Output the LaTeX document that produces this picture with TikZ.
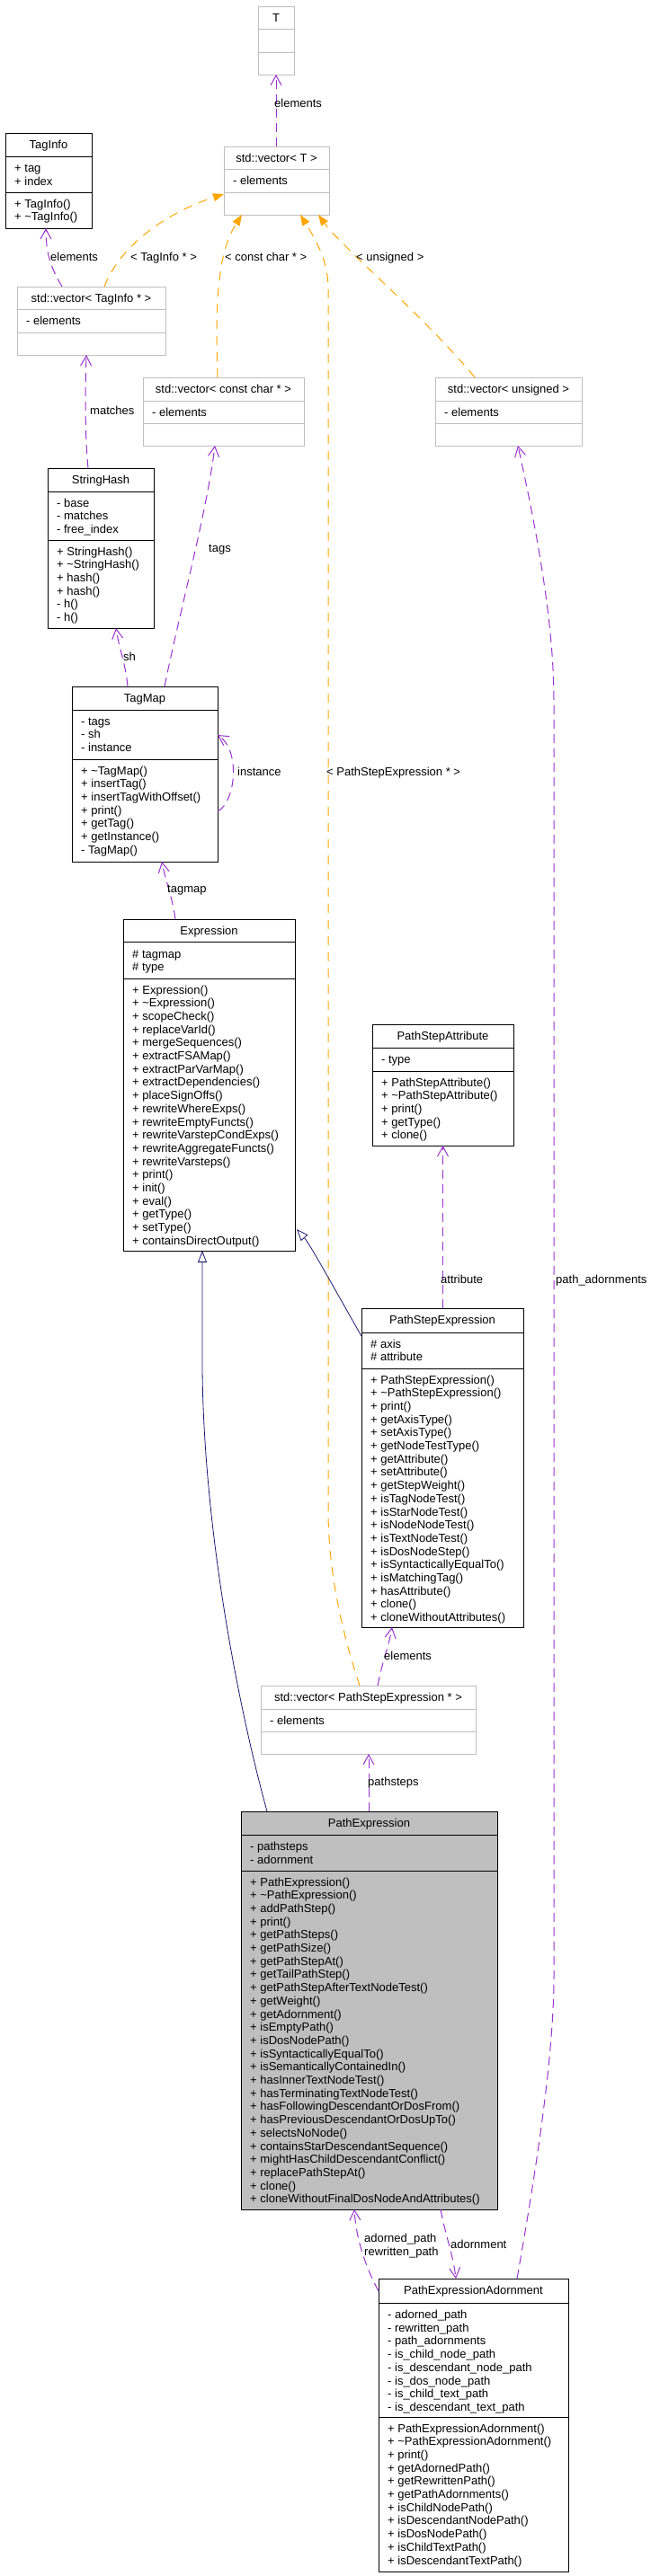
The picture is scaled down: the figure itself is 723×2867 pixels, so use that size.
\documentclass[tikz,border=0pt]{standalone}
\usepackage{fontspec}
\setmainfont{Liberation Sans}
\usetikzlibrary{arrows.meta,calc}
\definecolor{boxgray}{HTML}{BFBFBF}
\definecolor{curfill}{HTML}{BFBFBF}
\definecolor{usepurple}{HTML}{9A32CD}
\definecolor{tmplorange}{HTML}{FFA500}
\definecolor{inhblue}{HTML}{191970}
\newcommand\cbox[7]{%
  \node[#6, anchor=north west, minimum width={(#4)-(#2)}, minimum height={(#5)-(#3)}] (#1) at (#2,#3) {};
  \node[anchor=base, inner sep=0pt] (#1-t) at ({((#2)+(#4))/2},{(#3)+17.5}) {#7};
}
\newcommand\cdiv[4]{\draw[#4, line width=1pt] (#1,#3) -- (#2,#3);}
\newcommand\clines[4]{%
  \foreach \txt [count=\ci] in {#4} {
    \node[anchor=base west, inner sep=0pt] (#1-\ci) at (#2, {(#3)+(\ci-1)*14.7}) {\txt};
  }
}
\begin{document}
\begin{tikzpicture}[x=1pt,y=-1pt,font=\fontsize{13}{14.7}\selectfont,
  realbox/.style={draw=black, line width=1pt, fill=white, inner sep=0pt, outer sep=0pt},
  tmplbox/.style={draw=boxgray, line width=1pt, fill=white, inner sep=0pt, outer sep=0pt},
  curbox/.style={draw=black, line width=1pt, fill=curfill, inner sep=0pt, outer sep=0pt},
  usearrow/.style={draw=usepurple, line width=1pt, dash pattern=on 10pt off 6pt, -{Straight Barb[length=11pt,width=12pt]}},
  tmplarrow/.style={draw=tmplorange, line width=1pt, dash pattern=on 10pt off 8pt, -{Triangle[length=12pt,width=9pt,fill=tmplorange]}},
  inharrow/.style={draw=inhblue, line width=0.8pt, -{Triangle[length=13pt,width=10pt,fill=white]}},
  lbl/.style={anchor=base west, inner sep=0pt}]
\useasboundingbox (0,0) rectangle (723,2867);

% T
\cbox{T}{287}{7}{327}{83}{tmplbox}{T}
\cdiv{287}{327}{32}{boxgray}
\cdiv{287}{327}{58}{boxgray}

% std::vector< T >
\cbox{vecT}{249}{163}{366}{239}{tmplbox}{std::vector< T >}
\cdiv{249}{366}{188}{boxgray}
\cdiv{249}{366}{214}{boxgray}
\clines{vecT-a}{259}{205.5}{- elements}

% TagInfo
\cbox{TagInfo}{6}{148}{102}{254}{realbox}{TagInfo}
\cdiv{6}{102}{174}{black}
\cdiv{6}{102}{214}{black}
\clines{TagInfo-a}{16}{191.5}{+ tag,+ index}
\clines{TagInfo-m}{16}{231}{+ TagInfo(),+ \textasciitilde TagInfo()}

% std::vector< TagInfo * >
\cbox{vecTI}{19}{319}{184}{395}{tmplbox}{std::vector< TagInfo * >}
\cdiv{19}{184}{344}{boxgray}
\cdiv{19}{184}{370}{boxgray}
\clines{vecTI-a}{29}{361.5}{- elements}

% std::vector< const char * >
\cbox{vecCC}{159}{420}{338}{496}{tmplbox}{std::vector< const char * >}
\cdiv{159}{338}{446}{boxgray}
\cdiv{159}{338}{471}{boxgray}
\clines{vecCC-a}{169}{463}{- elements}

% std::vector< unsigned >
\cbox{vecU}{484}{420}{647}{496}{tmplbox}{std::vector< unsigned >}
\cdiv{484}{647}{446}{boxgray}
\cdiv{484}{647}{471}{boxgray}
\clines{vecU-a}{494}{463}{- elements}

% StringHash
\cbox{SH}{53}{521}{171}{699}{realbox}{StringHash}
\cdiv{53}{171}{547}{black}
\cdiv{53}{171}{601}{black}
\clines{SH-a}{63}{564}{- base,- matches,- free\_index}
\clines{SH-m}{63}{618}{+ StringHash(),+ \textasciitilde StringHash(),+ hash(),+ hash(),- h(),- h()}

% TagMap
\cbox{TM}{80}{764}{242}{959}{realbox}{TagMap}
\cdiv{80}{242}{790}{black}
\cdiv{80}{242}{845}{black}
\clines{TM-a}{90}{807}{- tags,- sh,- instance}
\clines{TM-m}{90}{862}{+ \textasciitilde TagMap(),+ insertTag(),+ insertTagWithOffset(),+ print(),+ getTag(),+ getInstance(),- TagMap()}

% Expression
\cbox{Expr}{137}{1023}{328}{1392}{realbox}{Expression}
\cdiv{137}{328}{1048}{black}
\cdiv{137}{328}{1089}{black}
\clines{Expr-a}{147}{1066}{\# tagmap,\# type}
\clines{Expr-m}{147}{1106}{+ Expression(),+ \textasciitilde Expression(),+ scopeCheck(),+ replaceVarId(),+ mergeSequences(),+ extractFSAMap(),+ extractParVarMap(),+ extractDependencies(),+ placeSignOffs(),+ rewriteWhereExps(),+ rewriteEmptyFuncts(),+ rewriteVarstepCondExps(),+ rewriteAggregateFuncts(),+ rewriteVarsteps(),+ print(),+ init(),+ eval(),+ getType(),+ setType(),+ containsDirectOutput()}

% PathStepAttribute
\cbox{PSA}{414}{1140}{571}{1275}{realbox}{PathStepAttribute}
\cdiv{414}{571}{1166}{black}
\cdiv{414}{571}{1192}{black}
\clines{PSA-a}{424}{1183}{- type}
\clines{PSA-m}{424}{1209}{+ PathStepAttribute(),+ \textasciitilde PathStepAttribute(),+ print(),+ getType(),+ clone()}

% PathStepExpression
\cbox{PSE}{402}{1456}{582}{1811}{realbox}{PathStepExpression}
\cdiv{402}{582}{1483}{black}
\cdiv{402}{582}{1523}{black}
\clines{PSE-a}{412}{1500}{\# axis,\# attribute}
\clines{PSE-m}{412}{1540}{+ PathStepExpression(),+ \textasciitilde PathStepExpression(),+ print(),+ getAxisType(),+ setAxisType(),+ getNodeTestType(),+ getAttribute(),+ setAttribute(),+ getStepWeight(),+ isTagNodeTest(),+ isStarNodeTest(),+ isNodeNodeTest(),+ isTextNodeTest(),+ isDosNodeStep(),+ isSyntacticallyEqualTo(),+ isMatchingTag(),+ hasAttribute(),+ clone(),+ cloneWithoutAttributes()}

% std::vector< PathStepExpression * >
\cbox{vecPSE}{290}{1876}{529}{1952}{tmplbox}{std::vector< PathStepExpression * >}
\cdiv{290}{529}{1902}{boxgray}
\cdiv{290}{529}{1927}{boxgray}
\clines{vecPSE-a}{300}{1919}{- elements}

% PathExpression
\cbox{PE}{268}{2016}{553}{2459}{curbox}{PathExpression}
\cdiv{268}{553}{2042}{black}
\cdiv{268}{553}{2082}{black}
\clines{PE-a}{278}{2059.5}{- pathsteps,- adornment}
\clines{PE-m}{278}{2099}{+ PathExpression(),+ \textasciitilde PathExpression(),+ addPathStep(),+ print(),+ getPathSteps(),+ getPathSize(),+ getPathStepAt(),+ getTailPathStep(),+ getPathStepAfterTextNodeTest(),+ getWeight(),+ getAdornment(),+ isEmptyPath(),+ isDosNodePath(),+ isSyntacticallyEqualTo(),+ isSemanticallyContainedIn(),+ hasInnerTextNodeTest(),+ hasTerminatingTextNodeTest(),+ hasFollowingDescendantOrDosFrom(),+ hasPreviousDescendantOrDosUpTo(),+ selectsNoNode(),+ containsStarDescendantSequence(),+ mightHasChildDescendantConflict(),+ replacePathStepAt(),+ clone(),+ cloneWithoutFinalDosNodeAndAttributes()}

% PathExpressionAdornment
\cbox{PEA}{421}{2536}{632}{2862}{realbox}{PathExpressionAdornment}
\cdiv{421}{632}{2563}{black}
\cdiv{421}{632}{2690}{black}
\clines{PEA-a}{431}{2580.5}{- adorned\_path,- rewritten\_path,- path\_adornments,- is\_child\_node\_path,- is\_descendant\_node\_path,- is\_dos\_node\_path,- is\_child\_text\_path,- is\_descendant\_text\_path}
\clines{PEA-m}{431}{2707}{+ PathExpressionAdornment(),+ \textasciitilde PathExpressionAdornment(),+ print(),+ getAdornedPath(),+ getRewrittenPath(),+ getPathAdornments(),+ isChildNodePath(),+ isDescendantNodePath(),+ isDosNodePath(),+ isChildTextPath(),+ isDescendantTextPath()}

% ---------- connectors ----------
\draw[usearrow] (T.south |- vecT.north) -- (T.south);
\draw[usearrow] ($(vecTI.north west)+(50,0)$) .. controls (58,300) and (51,285) .. ($(TagInfo.south)+(-3,0)$);
\draw[tmplarrow] ($(vecTI.north west)+(97,0)$) .. controls (135,270) and (190,235) .. ($(vecT.north west)+(0,53)$);
\draw[tmplarrow] ($(vecCC.north west)+(83,0)$) .. controls (239,330) and (243,280) .. ($(vecT.south west)+(20,0)$);
\draw[tmplarrow] ($(vecPSE.north west)+(110,0)$) .. controls (385,1830) and (365,1760) .. (365,1680) -- (365,320) .. controls (365,290) and (350,265) .. ($(vecT.south west)+(85,0)$);
\draw[tmplarrow] ($(vecU.north west)+(44,0)$) .. controls (470,350) and (380,275) .. ($(vecT.south west)+(105,0)$);
\draw[usearrow] ($(SH.north west)+(45,0)$) .. controls (94,480) and (95,430) .. ($(vecTI.south west)+(77,0)$);
\draw[usearrow] ($(TM.north west)+(62,0)$) .. controls (140,740) and (132,720) .. ($(SH.south west)+(76,0)$);
\draw[usearrow] ($(TM.north west)+(103,0)$) .. controls (200,680) and (230,570) .. ($(vecCC.south west)+(80,0)$);
\draw[usearrow] ($(TM.north east)+(0,139)$) .. controls (262,893) and (268,835) .. ($(TM.north east)+(0,54)$);
\draw[usearrow] ($(Expr.north west)+(58,0)$) .. controls (192,1000) and (184,980) .. ($(TM.south west)+(100,0)$);
\draw[usearrow] (PSA.south |- PSE.north) -- (PSA.south);
\draw[inharrow] ($(PSE.north west)+(0,31)$) .. controls (375,1440) and (345,1385) .. ($(Expr.south east)+(2,-24)$);
\draw[inharrow] ($(PE.north west)+(29,0)$) .. controls (265,1900) and (226,1700) .. (225,1520) -- ($(Expr.south west)+(88,0)$);
\draw[usearrow] ($(vecPSE.north west)+(130,0)$) .. controls (425,1850) and (433,1830) .. ($(PSE.south west)+(34,0)$);
\draw[usearrow] ($(PE.north west)+(142,0)$) -- ($(vecPSE.south west)+(120,0)$);
\draw[usearrow] ($(PEA.north west)+(154,0)$) .. controls (590,2450) and (616,2300) .. (616,2200) -- (616,780) .. controls (616,680) and (590,560) .. ($(vecU.south west)+(92,0)$);
\draw[usearrow] ($(PE.south west)+(222,0)$) .. controls (496,2490) and (504,2510) .. ($(PEA.north west)+(86,0)$);
\draw[usearrow] ($(PEA.north west)+(0,14)$) .. controls (405,2520) and (396,2490) .. ($(PE.south west)+(126,0)$);

% ---------- labels ----------
\node[lbl] (lElT) at (305,119.5) {elements};
\node[lbl] (lElTI) at (56,290.5) {elements};
\node[lbl] (lTI) at (145,290.5) {< TagInfo * >};
\node[lbl] (lCC) at (250,290.5) {< const char * >};
\node[lbl] (lU) at (396,290.5) {< unsigned >};
\node[lbl] (lMatch) at (100,461.5) {matches};
\node[lbl] (lTags) at (232,614.5) {tags};
\node[lbl] (lSh) at (137,735.5) {sh};
\node[lbl] (lInst) at (264,863.5) {instance};
\node[lbl] (lPSE) at (363,863.5) {< PathStepExpression * >};
\node[lbl] (lTagmap) at (186,993.5) {tagmap};
\node[lbl] (lAttr) at (490,1428.5) {attribute};
\node[lbl] (lPA) at (618,1428.5) {path\_adornments};
\node[lbl] (lElPSE) at (427,1847.5) {elements};
\node[lbl] (lSteps) at (409,1987.5) {pathsteps};
\node[lbl] (lAdRw) at (405,2510.5) {\begin{tabular}[b]{@{}l@{}}adorned\_path\\rewritten\_path\end{tabular}};
\node[lbl] (lAdorn) at (501,2502.5) {adornment};
\end{tikzpicture}
\end{document}
